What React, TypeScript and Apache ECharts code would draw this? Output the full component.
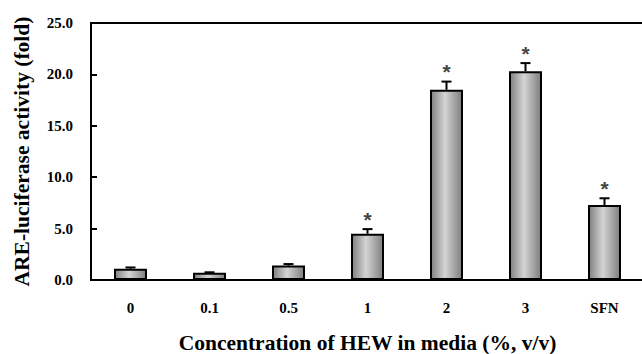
import React, { useEffect, useRef } from "react";
import * as echarts from "echarts";

const categories = ["0", "0.1", "0.5", "1", "2", "3", "SFN"];
const values = [1.1, 0.7, 1.4, 4.5, 18.5, 20.3, 7.3];
const errors = [0.12, 0.05, 0.15, 0.45, 0.8, 0.8, 0.65];
const significant = [false, false, false, true, true, true, true];
const yTicks = [0, 5, 10, 15, 20, 25];

export default function App() {
  const ref = useRef<HTMLDivElement>(null);
  useEffect(() => {
    const chart = echarts.init(ref.current!, null, { renderer: "svg" });
    const font = "'Liberation Serif', 'Times New Roman', serif";
    const barColor = new echarts.graphic.LinearGradient(0, 0, 1, 0, [
      { offset: 0, color: "#808080" },
      { offset: 0.45, color: "#d4d4d4" },
      { offset: 1, color: "#7e7e7e" },
    ]);
    chart.setOption({
      animation: false,
      backgroundColor: "#fff",
      grid: {
        left: 91,
        top: 23,
        width: 553,
        height: 257,
        outerBoundsMode: "none",
        containLabel: false,
        show: true,
        borderColor: "#000",
        borderWidth: 2,
      },
      xAxis: {
        type: "category",
        data: categories,
        axisLine: { lineStyle: { color: "#000", width: 2 } },
        axisTick: { inside: true, length: 6, lineStyle: { color: "#000", width: 2 } },
        axisLabel: { color: "#000", fontFamily: font, fontWeight: "bold", fontSize: 15, margin: 20 },
        name: "Concentration of HEW in media (%, v/v)",
        nameLocation: "middle",
        nameGap: 52,
        nameTextStyle: { color: "#000", fontFamily: font, fontWeight: "bold", fontSize: 21.5 },
      },
      yAxis: {
        type: "value",
        min: yTicks[0],
        max: yTicks[yTicks.length - 1],
        interval: 5,
        axisLine: { show: true, lineStyle: { color: "#000", width: 2 } },
        axisTick: { show: true, inside: true, length: 6, lineStyle: { color: "#000", width: 2 } },
        splitLine: { show: false },
        axisLabel: {
          color: "#000",
          fontFamily: font,
          fontWeight: "bold",
          fontSize: 15,
          margin: 18,
          formatter: (v: number) => v.toFixed(1),
        },
        name: "ARE-luciferase activity (fold)",
        nameLocation: "middle",
        nameGap: 58,
        nameTextStyle: { color: "#000", fontFamily: font, fontWeight: "bold", fontSize: 21.5 },
      },
      series: [
        {
          type: "bar",
          data: values,
          barWidth: 33,
          itemStyle: { color: barColor, borderColor: "#000", borderWidth: 2 },
          z: 2,
        },
        {
          type: "custom",
          z: 3,
          data: values.map((v, i) => [i, v, errors[i], significant[i] ? 1 : 0]),
          renderItem: (params: any, api: any) => {
            const x = api.value(0);
            const v = api.value(1);
            const e = api.value(2);
            const sig = api.value(3);
            const base = api.coord([x, v]);
            const top = api.coord([x, v + e]);
            const children: any[] = [
              {
                type: "line",
                shape: { x1: base[0], y1: base[1], x2: top[0], y2: top[1] },
                style: { stroke: "#000", lineWidth: 2 },
              },
              {
                type: "line",
                shape: { x1: top[0] - 5, y1: top[1], x2: top[0] + 5, y2: top[1] },
                style: { stroke: "#000", lineWidth: 2 },
              },
            ];
            if (sig) {
              children.push({
                type: "text",
                x: top[0],
                y: top[1] - 10,
                style: {
                  text: "*",
                  fill: "#444",
                  font: "bold 21px 'Liberation Sans', sans-serif",
                  align: "center",
                  verticalAlign: "middle",
                },
              });
            }
            return { type: "group", children };
          },
        },
      ],
    });
    return () => chart.dispose();
  }, []);
  return <div ref={ref} style={{ position: "fixed", left: 0, top: 0, width: 642, height: 354 }} />;
}
